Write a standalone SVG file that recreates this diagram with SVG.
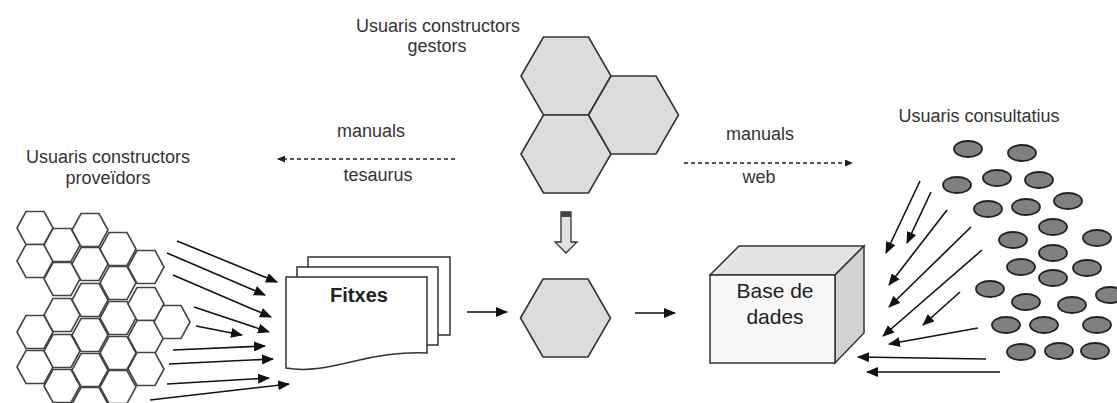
<svg xmlns="http://www.w3.org/2000/svg" xmlns:xlink="http://www.w3.org/1999/xlink" width="1117" height="403" viewBox="0 0 1117 403">
<style>
.lbl{font-family:"Liberation Sans",Arial,sans-serif;font-size:18px;fill:#333;text-anchor:middle}
.big{font-family:"Liberation Sans",Arial,sans-serif;font-size:21px;fill:#222;text-anchor:middle}
.hw{fill:#fff;stroke:#444;stroke-width:1.6}
.hg{fill:#dcdcdc;stroke:#333;stroke-width:1.6}
.ar{stroke:#111;stroke-width:1.6;fill:none;marker-end:url(#ah)}
.da{stroke:#222;stroke-width:1.3;fill:none;stroke-dasharray:4 3;marker-end:url(#sh)}
.el{fill:#808080;stroke:#222;stroke-width:1.8}
.pg{fill:#fff;stroke:#333;stroke-width:1.5}
</style>
<defs>
<polygon id="hs" points="-18,0 -9,-16.5 9,-16.5 18,0 9,16.5 -9,16.5"/>
<polygon id="hb" points="-45,0 -22.5,-39 22.5,-39 45,0 22.5,39 -22.5,39"/>
<ellipse id="ov" rx="14" ry="8"/>
<marker id="ah" markerWidth="12" markerHeight="10" refX="11" refY="5" orient="auto" markerUnits="userSpaceOnUse"><path d="M0,0 L12,5 L0,10 Z" fill="#111"/></marker>
<marker id="sh" markerWidth="8" markerHeight="7" refX="7" refY="3.5" orient="auto" markerUnits="userSpaceOnUse"><path d="M0,0 L8,3.5 L0,7 Z" fill="#222"/></marker>
</defs>
<rect width="1117" height="403" fill="#fff"/>

<g id="label-gestors">
<text class="lbl" x="438" y="32">Usuaris constructors</text>
<text class="lbl" x="437" y="52">gestors</text>
</g>
<g id="label-proveidors">
<text class="lbl" x="108" y="163">Usuaris constructors</text>
<text class="lbl" x="108" y="184">proveïdors</text>
</g>
<g id="label-consultatius">
<text class="lbl" x="979" y="122">Usuaris consultatius</text>
</g>

<g id="gestors">
<use href="#hb" class="hg" x="566" y="76"/>
<use href="#hb" class="hg" x="566" y="154"/>
<use href="#hb" class="hg" x="633.5" y="115"/>
</g>

<g id="down-arrow">
<polygon points="561,212 571,212 571,242 577,242 566,253 555,242 561,242" fill="#e2e2e2" stroke="#333" stroke-width="1.3"/>
<rect x="561" y="212" width="10" height="5" fill="#444"/>
</g>

<g id="proveidors">
<use href="#hs" class="hw" x="35" y="228"/><use href="#hs" class="hw" x="35" y="261"/><use href="#hs" class="hw" x="35" y="332"/><use href="#hs" class="hw" x="35" y="367"/>
<use href="#hs" class="hw" x="62" y="245"/><use href="#hs" class="hw" x="62" y="279"/><use href="#hs" class="hw" x="62" y="315"/><use href="#hs" class="hw" x="62" y="351"/><use href="#hs" class="hw" x="62" y="386"/>
<use href="#hs" class="hw" x="90" y="230"/><use href="#hs" class="hw" x="90" y="264"/><use href="#hs" class="hw" x="90" y="300"/><use href="#hs" class="hw" x="90" y="335"/><use href="#hs" class="hw" x="90" y="370"/><use href="#hs" class="hw" x="90" y="404"/>
<use href="#hs" class="hw" x="118" y="249"/><use href="#hs" class="hw" x="118" y="283"/><use href="#hs" class="hw" x="118" y="318"/><use href="#hs" class="hw" x="118" y="353"/><use href="#hs" class="hw" x="118" y="387"/>
<use href="#hs" class="hw" x="146" y="267"/><use href="#hs" class="hw" x="146" y="304"/><use href="#hs" class="hw" x="146" y="337"/><use href="#hs" class="hw" x="146" y="369"/>
<use href="#hs" class="hw" x="172" y="322"/>
</g>

<g id="fitxes">
<rect class="pg" x="308" y="257" width="142" height="78"/>
<rect class="pg" x="297" y="267" width="141" height="78"/>
<path class="pg" d="M286,277 L427,277 L427,353 C405,352 380,355 355,361 C330,367 308,372 286,368 Z"/>
<text x="359" y="302" font-family="Liberation Sans,Arial,sans-serif" font-size="20" font-weight="bold" fill="#222" text-anchor="middle">Fitxes</text>
</g>

<g id="central">
<use href="#hb" class="hg" x="565.5" y="318"/>
</g>

<g id="base-de-dades">
<polygon points="710,275 739,246 864,246 835,275" fill="#e4e4e4" stroke="#333" stroke-width="1.5"/>
<polygon points="835,275 864,246 864,333 835,363" fill="#d2d2d2" stroke="#333" stroke-width="1.5"/>
<rect x="710" y="275" width="125" height="88" fill="#f7f7f7" stroke="#333" stroke-width="1.5"/>
<text class="big" x="775" y="298">Base de</text>
<text class="big" x="775" y="324">dades</text>
</g>

<g id="consultatius">
<use href="#ov" class="el" x="968" y="149"/><use href="#ov" class="el" x="1022" y="153"/>
<use href="#ov" class="el" x="957" y="185"/><use href="#ov" class="el" x="997" y="178"/><use href="#ov" class="el" x="1039" y="180"/>
<use href="#ov" class="el" x="988" y="209"/><use href="#ov" class="el" x="1026" y="207"/><use href="#ov" class="el" x="1068" y="201"/>
<use href="#ov" class="el" x="1053" y="227"/><use href="#ov" class="el" x="1013" y="240"/><use href="#ov" class="el" x="1097" y="238"/>
<use href="#ov" class="el" x="1053" y="253"/><use href="#ov" class="el" x="1021" y="267"/><use href="#ov" class="el" x="1087" y="268"/>
<use href="#ov" class="el" x="1053" y="278"/><use href="#ov" class="el" x="990" y="289"/><use href="#ov" class="el" x="1110" y="295"/>
<use href="#ov" class="el" x="1026" y="302"/><use href="#ov" class="el" x="1072" y="305"/>
<use href="#ov" class="el" x="1006" y="325"/><use href="#ov" class="el" x="1044" y="325"/><use href="#ov" class="el" x="1097" y="325"/>
<use href="#ov" class="el" x="1021" y="352"/><use href="#ov" class="el" x="1059" y="351"/><use href="#ov" class="el" x="1095" y="351"/>
</g>

<g id="connectors">
<line class="da" x1="455" y1="159" x2="278" y2="159"/>
<line class="da" x1="684" y1="163" x2="852" y2="163"/>
<text class="lbl" x="371" y="137">manuals</text>
<text class="lbl" x="378" y="181">tesaurus</text>
<text class="lbl" x="760" y="140">manuals</text>
<text class="lbl" x="759" y="183">web</text>

<line class="ar" x1="177" y1="241" x2="277" y2="282"/>
<line class="ar" x1="167" y1="253" x2="265" y2="295"/>
<line class="ar" x1="173" y1="275" x2="271" y2="317"/>
<line class="ar" x1="194" y1="307" x2="269" y2="332"/>
<line class="ar" x1="196" y1="326" x2="242" y2="335"/>
<line class="ar" x1="173" y1="350" x2="265" y2="346"/>
<line class="ar" x1="169" y1="364" x2="273" y2="359"/>
<line class="ar" x1="167" y1="384" x2="269" y2="378"/>
<line class="ar" x1="150" y1="400" x2="289" y2="384"/>

<line class="ar" x1="467" y1="312" x2="507" y2="312"/>
<line class="ar" x1="635" y1="313" x2="675" y2="313"/>

<line class="ar" x1="920" y1="181" x2="886" y2="253"/>
<line class="ar" x1="931" y1="192" x2="907" y2="243"/>
<line class="ar" x1="947" y1="210" x2="889" y2="285"/>
<line class="ar" x1="971" y1="227" x2="889" y2="307"/>
<line class="ar" x1="982" y1="250" x2="883" y2="336"/>
<line class="ar" x1="960" y1="292" x2="923" y2="325"/>
<line class="ar" x1="978" y1="328" x2="889" y2="344"/>
<line class="ar" x1="986" y1="359" x2="858" y2="357"/>
<line class="ar" x1="1000" y1="372" x2="867" y2="372"/>
</g>
</svg>
